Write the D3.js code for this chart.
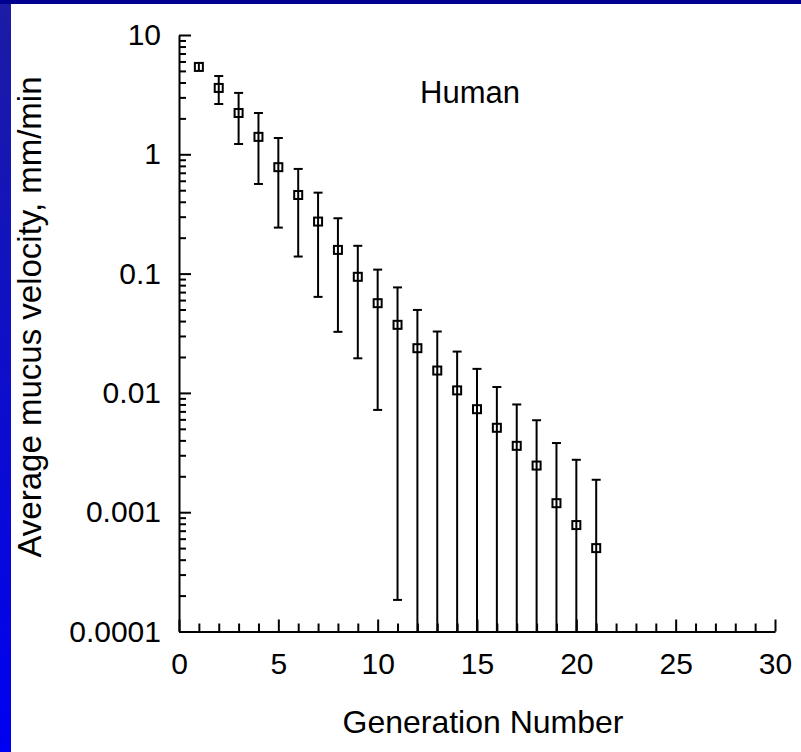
<!DOCTYPE html>
<html>
<head>
<meta charset="utf-8">
<script src="https://cdn.jsdelivr.net/npm/d3@7"></script>
<style>
  html, body { margin: 0; padding: 0; background: #fff; }
  svg { display: block; }
  text { font-family: "Liberation Sans", Arial, Helvetica, sans-serif; fill: #000; }
</style>
</head>
<body>
<svg id="chart" width="801" height="752"></svg>
<script>
// ---- data ----
const generations = [1, 2, 3, 4, 5, 6, 7, 8, 9, 10, 11, 12, 13, 14, 15, 16, 17, 18, 19, 20, 21];
const meanVelocity = [5.4, 3.6, 2.22, 1.40, 0.78, 0.456, 0.273, 0.158, 0.094, 0.0565, 0.0372,
  0.0237, 0.0154, 0.0105, 0.0073, 0.0051, 0.0036, 0.00246, 0.00119, 0.00078, 0.0005];
const upperBound = [null, 4.53, 3.27, 2.22, 1.37, 0.754, 0.477, 0.291, 0.171, 0.108, 0.0766,
  0.0496, 0.0327, 0.0222, 0.0159, 0.0112, 0.0080, 0.0059, 0.0038, 0.00275, 0.00187];
// 0 = error bar reaches below the axis minimum
const lowerBound = [null, 2.64, 1.22, 0.564, 0.243, 0.139, 0.0638, 0.0325, 0.0195, 0.0072, 0.000184,
  0, 0, 0, 0, 0, 0, 0, 0, 0, 0];
const xTicks = [0, 5, 10, 15, 20, 25, 30];
const yTicks = [0.0001, 0.001, 0.01, 0.1, 1, 10];
const yTickLabels = ["0.0001", "0.001", "0.01", "0.1", "1", "10"];
const xTitle = "Generation Number";
const yTitle = "Average mucus velocity, mm/min";
const annotation = "Human";

// ---- drawing ----
const svg = d3.select("#chart");

// background bands
const defs = svg.append("defs");
const grad = defs.append("linearGradient").attr("id", "leftband")
  .attr("x1", 0).attr("y1", 0).attr("x2", 0).attr("y2", 1);
grad.append("stop").attr("offset", "0%").attr("stop-color", "#1c1ca4");
grad.append("stop").attr("offset", "100%").attr("stop-color", "#0000f2");
svg.append("rect").attr("x", 0).attr("y", 0).attr("width", 11).attr("height", 752).attr("fill", "url(#leftband)");
svg.append("rect").attr("x", 0).attr("y", 0).attr("width", 801).attr("height", 4).attr("fill", "#000090");

const x = d3.scaleLinear().domain([0, 30]).range([179, 775]);
const y = d3.scaleLog().domain([0.0001, 10]).range([631.5, 35]);

// minor ticks
const xMinor = d3.range(0, 31).filter(v => v % 5 !== 0);
svg.append("g").attr("transform", `translate(0,${y.range()[0]})`)
  .call(d3.axisBottom(x).tickValues(xMinor).tickSize(-8).tickSizeOuter(0).tickFormat(""))
  .call(g => g.select(".domain").remove())
  .call(g => g.selectAll("line").attr("stroke", "#000").attr("stroke-width", 2));

const yMinor = [];
[0.0001, 0.001, 0.01, 0.1, 1].forEach(d => { for (let k = 2; k <= 9; k++) yMinor.push(d * k); });
svg.append("g").attr("transform", `translate(${x.range()[0]},0)`)
  .call(d3.axisLeft(y).tickValues(yMinor).tickSize(-7).tickSizeOuter(0).tickFormat(""))
  .call(g => g.select(".domain").remove())
  .call(g => g.selectAll("line").attr("stroke", "#000").attr("stroke-width", 2));

// major axes
svg.append("g").attr("transform", `translate(0,${y.range()[0]})`)
  .call(d3.axisBottom(x).tickValues(xTicks).tickSize(-12).tickSizeOuter(0).tickPadding(21))
  .call(g => g.select(".domain").attr("stroke", "#000").attr("stroke-width", 2))
  .call(g => g.selectAll("line").attr("stroke", "#000").attr("stroke-width", 2))
  .call(g => g.selectAll("text").attr("font-size", 30).attr("font-family", "Liberation Sans, Arial, sans-serif"));

svg.append("g").attr("transform", `translate(${x.range()[0]},0)`)
  .call(d3.axisLeft(y).tickValues(yTicks).tickSize(-12).tickSizeOuter(0).tickPadding(18)
    .tickFormat((d, i) => yTickLabels[i]))
  .call(g => g.select(".domain").attr("stroke", "#000").attr("stroke-width", 2))
  .call(g => g.selectAll("line").attr("stroke", "#000").attr("stroke-width", 2))
  .call(g => g.selectAll("text").attr("font-size", 30).attr("font-family", "Liberation Sans, Arial, sans-serif"));

// data
const pts = generations.map((g, i) => ({ g, m: meanVelocity[i], hi: upperBound[i], lo: lowerBound[i] }));
const withBars = pts.filter(d => d.hi !== null);
const capW = 9;
const bars = svg.append("g").attr("stroke", "#000").attr("stroke-width", 2).attr("fill", "none");
bars.selectAll("line.v").data(withBars).join("line").attr("class", "v")
  .attr("x1", d => x(d.g)).attr("x2", d => x(d.g))
  .attr("y1", d => y(d.hi))
  .attr("y2", d => d.lo > 0 ? y(d.lo) : y.range()[0]);
bars.selectAll("line.top").data(withBars).join("line").attr("class", "top")
  .attr("x1", d => x(d.g) - capW / 2).attr("x2", d => x(d.g) + capW / 2)
  .attr("y1", d => y(d.hi)).attr("y2", d => y(d.hi));
bars.selectAll("line.bot").data(withBars.filter(d => d.lo > 0)).join("line").attr("class", "bot")
  .attr("x1", d => x(d.g) - capW / 2).attr("x2", d => x(d.g) + capW / 2)
  .attr("y1", d => y(d.lo)).attr("y2", d => y(d.lo));

// markers
const ms = 8;
svg.append("g").selectAll("rect").data(pts).join("rect")
  .attr("x", d => x(d.g) - ms / 2).attr("y", d => y(d.m) - ms / 2)
  .attr("width", ms).attr("height", ms)
  .attr("fill", "#fff").attr("stroke", "#000").attr("stroke-width", 2);
svg.append("g").selectAll("line").data(pts).join("line")
  .attr("x1", d => x(d.g)).attr("x2", d => x(d.g))
  .attr("y1", d => y(d.m) - ms / 2).attr("y2", d => y(d.m) + ms / 2)
  .attr("stroke", "#000").attr("stroke-width", 2);

// titles
svg.append("text").attr("x", 483).attr("y", 733).attr("text-anchor", "middle")
  .attr("font-size", 32).text(xTitle);
svg.append("text").attr("transform", "translate(41,317) rotate(-90)").attr("text-anchor", "middle")
  .attr("font-size", 33).text(yTitle);
svg.append("text").attr("x", 420).attr("y", 103).attr("font-size", 31).text(annotation);
</script>
</body>
</html>
